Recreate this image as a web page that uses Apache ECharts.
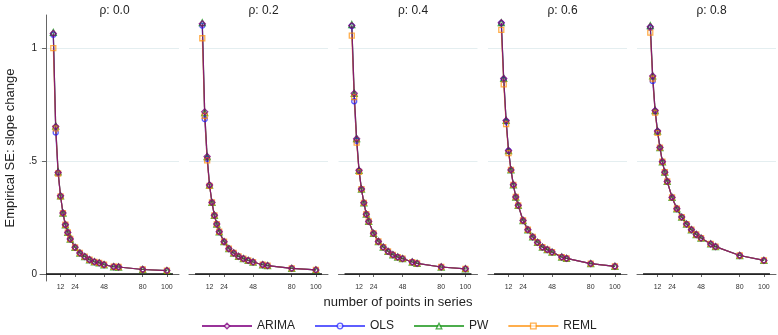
<!DOCTYPE html>
<html>
<head>
<meta charset="utf-8">
<script src="https://cdn.jsdelivr.net/npm/echarts@6/dist/echarts.min.js"></script>
<style>
  html, body { margin: 0; padding: 0; background: #fff; }
  #chart { width: 778px; height: 335px; }
</style>
</head>
<body>
<div id="chart"></div>
<script>
const nPoints = [6, 8, 10, 12, 14, 16, 18, 20, 24, 28, 32, 36, 40, 44, 48, 56, 60, 80, 100];
const rhoLabels = ['0.0', '0.2', '0.4', '0.6', '0.8'];
const methods = ['ARIMA', 'OLS', 'PW', 'REML'];

// SE at n = 6, 8, 10, 12, one row per rho
const arimaHead = [
  [1.065, 0.653, 0.450, 0.346],
  [1.108, 0.718, 0.520, 0.394],
  [1.100, 0.800, 0.599, 0.459],
  [1.113, 0.866, 0.680, 0.547],
  [1.095, 0.877, 0.724, 0.633]
];
const olsHead = [
  [1.060, 0.627, 0.445, 0.344],
  [1.100, 0.686, 0.510, 0.392],
  [1.098, 0.765, 0.590, 0.456],
  [1.110, 0.860, 0.675, 0.545],
  [1.090, 0.855, 0.720, 0.630]
];
const pwHead = [
  [1.070, 0.655, 0.452, 0.346],
  [1.113, 0.715, 0.520, 0.394],
  [1.105, 0.800, 0.600, 0.459],
  [1.113, 0.866, 0.680, 0.547],
  [1.100, 0.877, 0.724, 0.633]
];
const remlHead = [
  [1.000, 0.645, 0.445, 0.344],
  [1.044, 0.700, 0.503, 0.390],
  [1.056, 0.783, 0.582, 0.452],
  [1.081, 0.840, 0.664, 0.535],
  [1.069, 0.865, 0.715, 0.625]
];

// SE at n = 14 ... 100, the four methods overlap here
const tailSE = [
  [0.270, 0.218, 0.184, 0.155, 0.118, 0.093, 0.077, 0.063, 0.054, 0.049, 0.041, 0.032, 0.031, 0.020, 0.015],
  [0.317, 0.260, 0.221, 0.187, 0.143, 0.112, 0.093, 0.078, 0.068, 0.060, 0.053, 0.041, 0.037, 0.025, 0.018],
  [0.376, 0.315, 0.265, 0.233, 0.180, 0.144, 0.119, 0.100, 0.085, 0.075, 0.068, 0.053, 0.047, 0.031, 0.023],
  [0.461, 0.395, 0.341, 0.304, 0.237, 0.196, 0.164, 0.140, 0.119, 0.108, 0.097, 0.075, 0.069, 0.046, 0.034],
  [0.560, 0.497, 0.451, 0.410, 0.339, 0.289, 0.252, 0.221, 0.196, 0.175, 0.159, 0.133, 0.121, 0.082, 0.060]
];

const xTicks = [12, 24, 48, 80, 100];
const yTicks = [0, 0.5, 1];
const yTickLabels = ['0', '.5', '1'];

const FONT = 'Liberation Sans, Arial, sans-serif';
const heads = { ARIMA: arimaHead, OLS: olsHead, PW: pwHead, REML: remlHead };
const colors = { ARIMA: '#800080', OLS: '#1a1aff', PW: '#008a00', REML: '#ff8c00' };
const symbols = { ARIMA: 'diamond', OLS: 'circle', PW: 'triangle', REML: 'rect' };
const symbolSizes = { ARIMA: 6, OLS: 5, PW: 6, REML: 5 };
const alphas = { ARIMA: 0.8, OLS: 0.7, PW: 0.7, REML: 0.7 };
// drawing order: ARIMA ends up on top
const drawOrder = ['OLS', 'PW', 'REML', 'ARIMA'];

const panelLeft = [40, 189, 338.5, 488, 637];
const panelWidth = 139;

let grid = [], xAxis = [], yAxis = [], series = [], title = [];

rhoLabels.forEach((rho, i) => {
  grid.push({ left: panelLeft[i], width: panelWidth, top: 15, height: 266 });
  title.push({
    text: 'ρ: ' + rho,
    left: panelLeft[i] + panelWidth / 2,
    top: 0,
    textAlign: 'center',
    textStyle: { fontSize: 12, fontWeight: 'normal', color: '#222', fontFamily: FONT }
  });
  xAxis.push({
    type: 'value', gridIndex: i, min: -5, max: 110,
    axisLine: { lineStyle: { color: '#666', width: 1 } },
    axisTick: { customValues: xTicks, length: 3, lineStyle: { color: '#666' } },
    axisLabel: { customValues: xTicks, fontSize: 7, color: '#333', margin: 3, fontFamily: FONT },
    splitLine: { show: false }
  });
  yAxis.push({
    type: 'value', gridIndex: i, min: -0.031, max: 1.147,
    axisLine: { show: i === 0, lineStyle: { color: '#666', width: 1 } },
    axisTick: { show: i === 0, customValues: yTicks, length: 4, lineStyle: { color: '#666' } },
    axisLabel: {
      show: i === 0, customValues: yTicks, fontSize: 10, color: '#222', margin: 3, fontFamily: FONT,
      formatter: v => yTickLabels[yTicks.indexOf(v)]
    },
    splitLine: { show: true, lineStyle: { color: '#e4eef0', width: 1 } }
  });

  // zero reference line
  series.push({
    type: 'line', xAxisIndex: i, yAxisIndex: i, silent: true, symbol: 'none', z: 1,
    data: [[0, 0], [105, 0]],
    lineStyle: { color: '#111', width: 1.5 }
  });

  drawOrder.forEach(m => {
    const vals = heads[m][i].concat(tailSE[i]);
    series.push({
      name: m, type: 'line', xAxisIndex: i, yAxisIndex: i, z: 3,
      data: nPoints.map((n, k) => [n, vals[k]]),
      symbol: symbols[m], symbolSize: symbolSizes[m],
      color: colors[m],
      lineStyle: { width: 1.2, color: colors[m], opacity: alphas[m] },
      itemStyle: {
        color: 'rgba(255,255,255,0)',
        borderColor: colors[m], borderWidth: 1.3, opacity: alphas[m]
      },
      emphasis: { disabled: true }
    });
  });
});

const chart = echarts.init(document.getElementById('chart'), null, { renderer: 'canvas' });
chart.setOption({
  animation: false,
  backgroundColor: '#fff',
  title: title,
  grid: grid,
  xAxis: xAxis,
  yAxis: yAxis,
  series: series,
  legend: {
    data: methods, top: 315, left: 196,
    itemWidth: 50, itemHeight: 7, itemGap: 19,
    itemStyle: { color: '#fff', borderColor: 'inherit', borderWidth: 1.3 },
    textStyle: { fontSize: 12, color: '#222', fontFamily: FONT }
  },
  graphic: [
    {
      type: 'text', x: 10, y: 148, rotation: Math.PI / 2,
      style: { text: 'Empirical SE: slope change', fontSize: 13, fill: '#222', fontFamily: FONT, align: 'center', verticalAlign: 'middle' }
    },
    {
      type: 'text', x: 398, y: 302,
      style: { text: 'number of points in series', fontSize: 13, fill: '#222', fontFamily: FONT, align: 'center', verticalAlign: 'middle' }
    }
  ]
});
</script>
</body>
</html>
